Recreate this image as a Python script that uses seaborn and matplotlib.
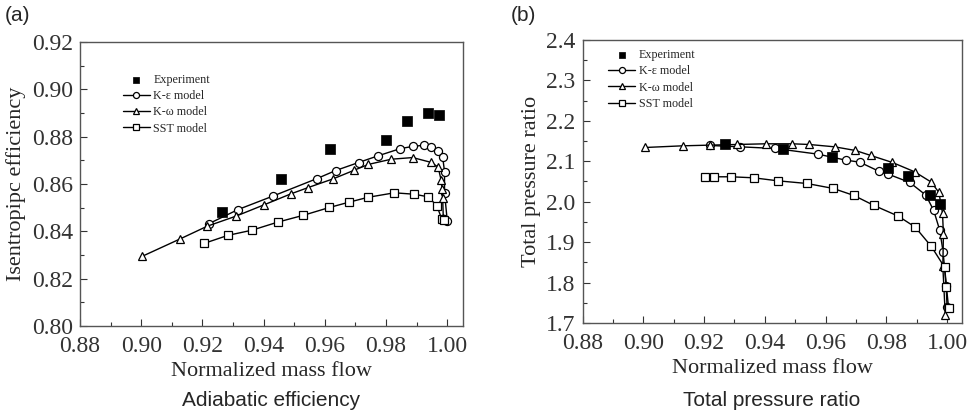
import matplotlib
matplotlib.use('Agg')
import matplotlib.pyplot as plt
from matplotlib.ticker import MultipleLocator, FormatStrFormatter
import seaborn as sns
import pandas as pd

# ---- panel (a): adiabatic efficiency ----
a_exp_x = [0.9265, 0.9458, 0.9617, 0.9801, 0.9867, 0.9938, 0.9974]
a_exp_y = [0.8481, 0.8620, 0.8747, 0.8786, 0.8866, 0.8902, 0.8892]
a_ke_x = [0.9222, 0.9316, 0.9430, 0.9574, 0.9635, 0.9710, 0.9773, 0.9847,
          0.9887, 0.9923, 0.9947, 0.9970, 0.9985, 0.9991, 0.9991, 1.0000]
a_ke_y = [0.8433, 0.8492, 0.8549, 0.8623, 0.8657, 0.8691, 0.8719, 0.8750,
          0.8759, 0.8764, 0.8755, 0.8738, 0.8713, 0.8653, 0.8563, 0.8444]
a_kw_x = [0.9004, 0.9127, 0.9216, 0.9309, 0.9401, 0.9488, 0.9545, 0.9627,
          0.9695, 0.9742, 0.9817, 0.9887, 0.9946, 0.9970, 0.9980, 0.9983,
          0.9985, 0.9987]
a_kw_y = [0.8295, 0.8368, 0.8422, 0.8464, 0.8512, 0.8558, 0.8585, 0.8622,
          0.8658, 0.8683, 0.8705, 0.8712, 0.8692, 0.8672, 0.8616, 0.8579,
          0.8540, 0.8455]
a_sst_x = [0.9205, 0.9283, 0.9362, 0.9446, 0.9530, 0.9615, 0.9678, 0.9741,
           0.9827, 0.9892, 0.9938, 0.9966, 0.9982, 0.9990]
a_sst_y = [0.8349, 0.8383, 0.8405, 0.8439, 0.8468, 0.8501, 0.8523, 0.8544,
           0.8563, 0.8557, 0.8546, 0.8508, 0.8452, 0.8450]

# ---- panel (b): total pressure ratio ----
b_exp_x = [0.9270, 0.9461, 0.9622, 0.9806, 0.9872, 0.9943, 0.9978]
b_exp_y = [2.1432, 2.1308, 2.1094, 2.0822, 2.0641, 2.0171, 1.9940]
b_ke_x = [0.9221, 0.9319, 0.9434, 0.9575, 0.9666, 0.9712, 0.9777, 0.9806,
          0.9877, 0.9930, 0.9956, 0.9976, 0.9987, 0.9997, 1.0000]
b_ke_y = [2.1390, 2.1357, 2.1316, 2.1176, 2.1028, 2.0979, 2.0748, 2.0682,
          2.0476, 2.0163, 1.9784, 1.9290, 1.8755, 1.7906, 1.7400]
b_kw_x = [0.9007, 0.9129, 0.9219, 0.9308, 0.9403, 0.9490, 0.9546, 0.9630,
          0.9698, 0.9749, 0.9820, 0.9893, 0.9948, 0.9973, 0.9985, 0.9988,
          0.9986, 0.9994]
b_kw_y = [2.1341, 2.1382, 2.1399, 2.1415, 2.1432, 2.1432, 2.1415, 2.1357,
          2.1267, 2.1143, 2.0970, 2.0740, 2.0484, 2.0229, 1.9718, 1.9190,
          1.8400, 1.7206]
b_sst_x = [0.9202, 0.9231, 0.9289, 0.9363, 0.9442, 0.9538, 0.9625, 0.9693,
           0.9759, 0.9839, 0.9895, 0.9948, 0.9992, 0.9998, 1.0005]
b_sst_y = [2.0600, 2.0616, 2.0616, 2.0591, 2.0517, 2.0451, 2.0328, 2.0155,
           1.9908, 1.9644, 1.9372, 1.8895, 1.8376, 1.7890, 1.7370]

labels = ['K-\u03b5 model', 'K-\u03c9 model', 'SST model']
markers = ['o', '^', 's']

sns.set_style('ticks')
plt.rcParams['font.family'] = ['Liberation Serif', 'DejaVu Serif']

fig = plt.figure(figsize=(9.71, 4.15), dpi=100)
axA = fig.add_axes([0.0824, 0.2145, 0.394, 0.684])
axB = fig.add_axes([0.600, 0.2217, 0.391, 0.682])


def draw_panel(ax, ex, ey, series, ylim, ystep, ylabel, legend_anchor, yfmt):
    df = pd.DataFrame({'x': ex, 'y': ey})
    sns.scatterplot(data=df, x='x', y='y', marker='s', s=45, color='black',
                    edgecolor='black', linewidth=0.5, ax=ax, label='Experiment', zorder=5)
    for (sx, sy), lab, mk in zip(series, labels, markers):
        d = pd.DataFrame({'x': sx, 'y': sy})
        sns.lineplot(data=d, x='x', y='y', sort=False, estimator=None, color='black',
                     linewidth=1.0, marker=mk, markersize=5.8 if mk != 's' else 5.3,
                     markerfacecolor='white', markeredgecolor='black',
                     markeredgewidth=0.9, ax=ax, label=lab)
    ax.set_xlim(0.88, 1.005)
    ax.set_ylim(*ylim)
    ax.xaxis.set_major_locator(MultipleLocator(0.02))
    ax.xaxis.set_minor_locator(MultipleLocator(0.01))
    ax.yaxis.set_major_locator(MultipleLocator(ystep))
    ax.yaxis.set_minor_locator(MultipleLocator(ystep / 2))
    ax.xaxis.set_major_formatter(FormatStrFormatter('%.2f'))
    ax.yaxis.set_major_formatter(FormatStrFormatter(yfmt))
    ax.tick_params(which='both', direction='in', top=False, right=False,
                   labelsize=17, width=0.8, colors='#333333')
    ax.tick_params(axis='x', pad=7)
    ax.tick_params(axis='y', pad=5)
    ax.tick_params(which='major', length=5)
    ax.tick_params(which='minor', length=3)
    for sp in ax.spines.values():
        sp.set_linewidth(1.0)
        sp.set_color('#555555')
    ax.set_xlabel('Normalized mass flow', fontsize=16, labelpad=4)
    ax.set_ylabel(ylabel, fontsize=16, labelpad=4)
    ax.legend(loc='upper left', bbox_to_anchor=legend_anchor, frameon=False,
              fontsize=8.7, handlelength=2.2, handletextpad=0.3, markerscale=0.75,
              labelspacing=0.35, borderaxespad=0)


draw_panel(axA, a_exp_x, a_exp_y,
           [(a_ke_x, a_ke_y), (a_kw_x, a_kw_y), (a_sst_x, a_sst_y)],
           (0.80, 0.92), 0.02, 'Isentropipc efficiency', (0.10, 0.905), '%.2f')

draw_panel(axB, b_exp_x, b_exp_y,
           [(b_ke_x, b_ke_y), (b_kw_x, b_kw_y), (b_sst_x, b_sst_y)],
           (1.7, 2.4), 0.1, 'Total pressure ratio', (0.055, 0.985), '%.1f')

sans = ['Liberation Sans', 'DejaVu Sans']
fig.text(0.005, 0.962, '(a)', fontsize=15, family=sans, va='center', ha='left')
fig.text(0.526, 0.962, '(b)', fontsize=15, family=sans, va='center', ha='left')
fig.text(0.2795, 0.036, 'Adiabatic efficiency', fontsize=15, family=sans, ha='center', va='center')
fig.text(0.795, 0.036, 'Total pressure ratio', fontsize=15, family=sans, ha='center', va='center')

fig.savefig('out.png', dpi=100)
